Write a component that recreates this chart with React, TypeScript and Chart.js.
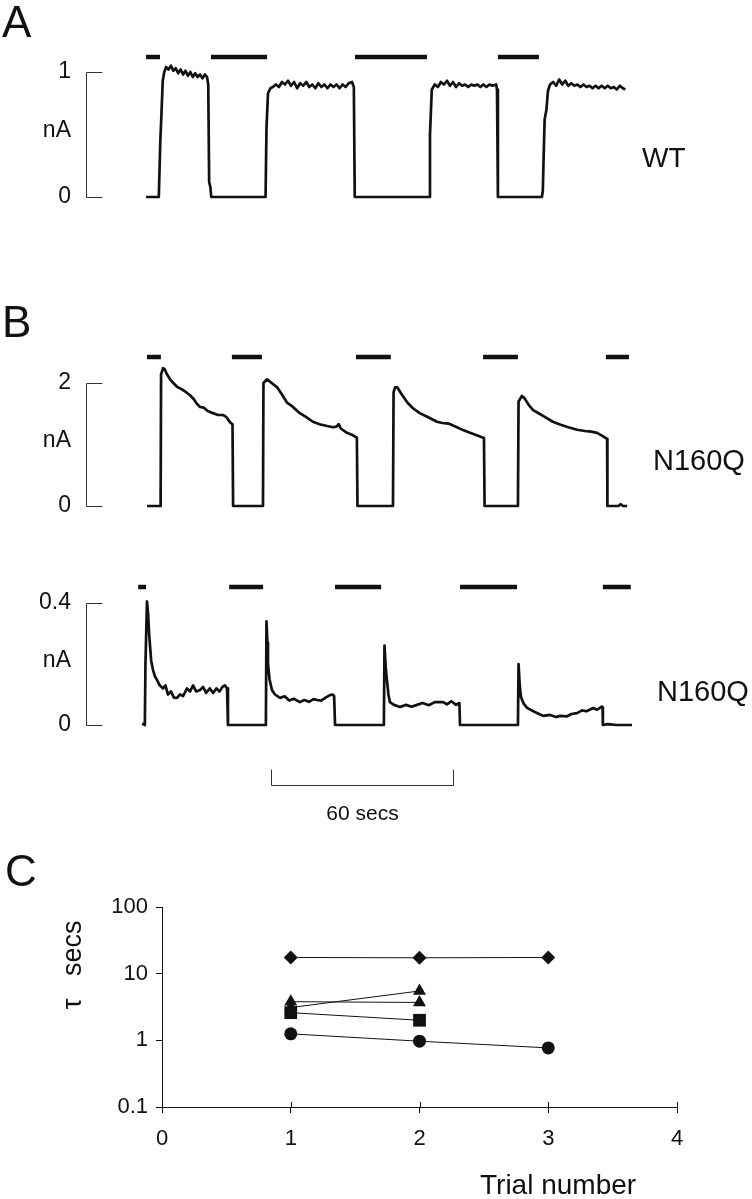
import React, { useEffect, useRef } from 'react';
import { Chart, registerables } from 'chart.js';

Chart.register(...registerables);

const FONT = '"Liberation Sans", Arial, Helvetica, sans-serif';
const INK = '#111';

// ---------- DATA (time in seconds, current in nA) ----------
// Panel A, WT trace
const TRACE_WT: [number, number][] = [
  [-0.2, 0], [4.0, 0], [4.5, 0.45], [4.8, 0.62], [5.3, 0.93], [5.8, 1.0], [6.4, 1.04], [7.2, 1.02], [8.0, 1.05],
  [8.8, 1.01], [9.6, 1.03], [10.4, 0.99], [11.2, 1.02], [12.0, 0.98], [12.8, 1.01], [13.6, 0.97], [14.4, 1.0],
  [15.2, 0.96], [16.0, 0.99], [16.8, 0.96], [17.6, 0.98], [18.4, 0.95], [19.2, 0.98], [19.9, 0.96], [20.3, 0.9],
  [20.6, 0.12], [21.0, 0.08], [21.3, 0], [39.2, 0], [39.5, 0.55], [40.0, 0.83], [40.8, 0.87], [41.6, 0.88],
  [42.6, 0.9], [43.6, 0.88], [44.6, 0.92], [45.6, 0.9], [46.6, 0.93], [47.6, 0.89], [48.6, 0.92], [49.6, 0.87],
  [50.6, 0.91], [51.6, 0.89], [52.6, 0.92], [53.6, 0.88], [54.6, 0.9], [55.6, 0.87], [56.6, 0.91], [57.6, 0.88],
  [58.6, 0.9], [59.6, 0.87], [60.6, 0.9], [61.6, 0.88], [62.6, 0.9], [63.6, 0.87], [64.6, 0.9], [65.6, 0.88],
  [66.6, 0.91], [67.7, 0.92], [68.3, 0.88], [68.6, 0], [93.1, 0], [93.4, 0.5], [94.0, 0.86], [95.0, 0.9],
  [96.0, 0.88], [97.0, 0.92], [98.0, 0.9], [99.0, 0.93], [100.0, 0.89], [101.0, 0.92], [102.0, 0.88],
  [103.0, 0.91], [104.0, 0.89], [105.0, 0.9], [106.0, 0.88], [107.0, 0.9], [108.0, 0.89], [109.0, 0.9],
  [110.0, 0.88], [111.0, 0.9], [112.0, 0.88], [113.0, 0.9], [114.0, 0.89], [115.2, 0.9], [115.5, 0.86],
  [115.8, 0], [130.3, 0], [130.6, 0.05], [130.9, 0.35], [131.2, 0.62], [131.8, 0.7], [132.3, 0.85],
  [133.0, 0.9], [134.0, 0.92], [135.0, 0.89], [136.0, 0.94], [137.0, 0.9], [138.0, 0.93], [139.0, 0.89],
  [140.0, 0.91], [141.0, 0.89], [142.0, 0.9], [143.0, 0.88], [144.0, 0.9], [145.0, 0.88], [146.0, 0.89],
  [147.0, 0.87], [148.0, 0.89], [149.0, 0.87], [150.0, 0.89], [151.0, 0.87], [152.0, 0.89], [153.0, 0.87],
  [154.0, 0.88], [155.0, 0.86], [156.0, 0.89], [157.0, 0.87], [157.8, 0.86],
];
const BARS_WT: [number, number][] = [[-0.2, 4.4], [21.2, 39.7], [68.7, 92.4], [115.8, 129.3]];

// Panel B, upper N160Q trace
const TRACE_N160Q_1: [number, number][] = [
  [0.1, 0], [4.6, 0], [4.75, 2.14], [5.4, 2.24], [6.0, 2.22], [6.6, 2.15], [7.7, 2.06], [8.8, 2.0], [10.0, 1.94],
  [11.5, 1.9], [13.0, 1.85], [14.3, 1.8], [15.5, 1.74], [16.6, 1.66], [17.6, 1.61], [18.8, 1.6], [20.0, 1.55],
  [21.9, 1.51], [23.5, 1.48], [25.2, 1.48], [26.2, 1.45], [27.5, 1.36], [28.3, 1.33], [28.5, 0],
  [38.35, 0], [38.5, 2.0], [39.7, 2.06], [40.7, 2.02], [42.0, 1.97], [43.0, 1.93], [44.5, 1.82], [46.3, 1.68],
  [48.0, 1.62], [50.5, 1.51], [52.5, 1.45], [54.8, 1.37], [57.0, 1.33], [59.5, 1.3], [61.4, 1.28], [62.6, 1.29],
  [63.3, 1.33], [64.0, 1.26], [66.0, 1.19], [67.6, 1.16], [69.3, 1.11], [69.5, 0],
  [81.2, 0], [81.4, 1.85], [81.9, 1.93], [82.6, 1.93], [84.0, 1.82], [86.0, 1.68], [87.8, 1.59], [90.0, 1.51],
  [92.5, 1.45], [95.7, 1.37], [97.5, 1.35], [99.5, 1.34], [102.3, 1.28], [104.5, 1.23], [106.6, 1.19],
  [108.8, 1.15], [110.9, 1.11], [111.2, 1.1], [111.4, 0],
  [122.4, 0], [122.6, 1.7], [123.7, 1.79], [124.6, 1.75], [126.0, 1.64], [127.4, 1.56], [129.5, 1.5],
  [131.5, 1.44], [133.9, 1.37], [136.5, 1.32], [139.0, 1.28], [141.9, 1.24], [144.5, 1.22], [146.5, 1.21],
  [148.5, 1.19], [150.2, 1.14], [151.8, 1.09], [151.9, 0], [155.5, 0], [156.3, 0.03], [157.0, 0], [158.4, 0],
];
const BARS_N160Q_1: [number, number][] = [[0.1, 4.7], [28.1, 38.0], [69.0, 80.5], [110.9, 122.4], [151.4, 159.0]];

// Panel B, lower N160Q trace
const TRACE_N160Q_2: [number, number][] = [
  [-1.5, 0.005], [-0.6, 0], [-0.4, 0.2], [0.1, 0.405], [0.5, 0.36], [0.8, 0.3], [1.1, 0.26], [1.5, 0.21],
  [2.1, 0.18], [2.7, 0.16], [3.4, 0.148], [4.3, 0.13], [5.4, 0.12], [6.2, 0.13], [7.0, 0.1], [8.0, 0.11],
  [9.0, 0.09], [10.0, 0.089], [11.0, 0.1], [12.0, 0.095], [13.3, 0.12], [14.3, 0.11], [15.3, 0.13],
  [16.3, 0.11], [17.6, 0.115], [18.6, 0.125], [19.6, 0.105], [20.8, 0.12], [21.9, 0.105], [23.0, 0.12],
  [24.0, 0.11], [25.0, 0.125], [25.8, 0.13], [26.5, 0.12], [26.8, 0],
  [39.3, 0], [39.5, 0.34], [39.8, 0.27], [40.0, 0.2], [40.5, 0.15], [41.3, 0.115], [42.3, 0.1], [43.95, 0.089],
  [45.5, 0.094], [47.0, 0.08], [48.5, 0.086], [50.5, 0.075], [52.0, 0.082], [53.5, 0.076], [55.0, 0.085],
  [56.2, 0.082], [57.5, 0.08], [59.0, 0.09], [60.4, 0.098], [61.3, 0.1], [61.8, 0.095], [62.1, 0],
  [78.2, 0], [78.4, 0.26], [78.8, 0.19], [79.2, 0.148], [79.7, 0.1], [80.2, 0.075], [81.5, 0.066],
  [83.5, 0.059], [85.5, 0.066], [87.3, 0.06], [89.1, 0.066], [91.0, 0.072], [93.0, 0.065], [95.0, 0.075],
  [97.7, 0.075], [99.0, 0.068], [100.5, 0.078], [102.0, 0.066], [102.6, 0.07], [103.1, 0.072], [103.3, 0],
  [122.4, 0], [122.6, 0.2], [123.0, 0.13], [123.4, 0.092], [124.3, 0.07], [125.4, 0.056], [127.5, 0.045],
  [129.0, 0.038], [130.7, 0.03], [133.0, 0.033], [135.0, 0.026], [136.3, 0.03], [138.5, 0.028], [140.0, 0.036],
  [141.9, 0.039], [143.5, 0.048], [145.0, 0.045], [147.2, 0.056], [148.5, 0.05], [150.0, 0.06], [150.3, 0.058],
  [150.4, 0], [152.0, 0.003], [155.0, 0], [160.0, 0],
];
const BARS_N160Q_2: [number, number][] = [[-2.8, -0.2], [27.2, 38.4], [62.1, 77.3], [103.3, 122.1], [150.4, 159.6]];

const SCALE_BAR_SECS: [number, number] = [41, 101];

// Panel C
const TRIALS = [1, 2, 3];
const TAU_CIRCLE = [1.25, 0.97, 0.77];
const TAU_SQUARE = [2.6, 2.0];
const TAU_TRIANGLE_A = [3.1, 5.5];
const TAU_TRIANGLE_B = [3.8, 3.7];
const TAU_DIAMOND = [17.5, 17.3, 17.5];
const C_Y_TICKS = [0.1, 1, 10, 100];
const C_Y_LABELS = ['0.1', '1', '10', '100'];

// ---------- LAYOUT ----------
const W = 752;
const T_MIN = -20;
const T_MAX = 196;
const PX_PER_S = 3.0333;
const AXIS_X = 86;
const RIGHT_EDGE = AXIS_X + (T_MAX - T_MIN) * PX_PER_S;

type TracePanel = {
  trace: [number, number][];
  bars: [number, number][];
  tickValues: number[];
  tickLabels: string[];
  zeroPx: number;
  topPx: number;
  topVal: number;
  areaTop: number;
  areaBottom: number;
  canvasTop: number;
  canvasHeight: number;
  scaleBar?: [number, number];
};

const PANELS: TracePanel[] = [
  {
    trace: TRACE_WT, bars: BARS_WT, tickValues: [0, 0.53, 1], tickLabels: ['0', 'nA', '1'],
    zeroPx: 197, topPx: 72, topVal: 1, areaTop: 49, areaBottom: 206, canvasTop: 39, canvasHeight: 175,
  },
  {
    trace: TRACE_N160Q_1, bars: BARS_N160Q_1, tickValues: [0, 1.07, 2], tickLabels: ['0', 'nA', '2'],
    zeroPx: 506, topPx: 383, topVal: 2, areaTop: 349, areaBottom: 514, canvasTop: 339, canvasHeight: 183,
  },
  {
    trace: TRACE_N160Q_2, bars: BARS_N160Q_2, tickValues: [0, 0.21, 0.4], tickLabels: ['0', 'nA', '0.4'],
    zeroPx: 725, topPx: 603, topVal: 0.4, areaTop: 579, areaBottom: 733, canvasTop: 569, canvasHeight: 266,
    scaleBar: SCALE_BAR_SECS,
  },
];

const C_TOP = 880;
const C_HEIGHT = 300;

function resetPadding(s: any) {
  s.paddingTop = 0; s.paddingBottom = 0; s.paddingLeft = 0; s.paddingRight = 0;
}

function makeDecor(p: TracePanel) {
  return {
    id: 'traceDecor',
    afterDatasetsDraw(chart: any) {
      const { ctx, chartArea, scales } = chart;
      const xs = scales.x;
      const ys = scales.y;
      ctx.save();
      // bracket axis
      const bx = Math.round(chartArea.left) + 0.5;
      const y0 = Math.round(ys.getPixelForValue(0)) + 0.5;
      const y1 = Math.round(ys.getPixelForValue(p.topVal)) + 0.5;
      ctx.strokeStyle = '#333';
      ctx.lineWidth = 1;
      ctx.beginPath();
      ctx.moveTo(bx + 16, y1); ctx.lineTo(bx, y1); ctx.lineTo(bx, y0); ctx.lineTo(bx + 16, y0);
      ctx.stroke();
      // stimulus bars
      ctx.fillStyle = INK;
      const by = chartArea.top + 8;
      for (const [a, b] of p.bars) {
        const xa = xs.getPixelForValue(a);
        const xb = xs.getPixelForValue(b);
        ctx.fillRect(xa, by - 2.25, xb - xa, 4.5);
      }
      // time scale bar
      if (p.scaleBar) {
        const xa = Math.round(xs.getPixelForValue(p.scaleBar[0])) + 0.5;
        const xb = Math.round(xs.getPixelForValue(p.scaleBar[1])) + 0.5;
        const yb = Math.round(chartArea.bottom + 52) + 0.5;
        ctx.strokeStyle = '#333';
        ctx.lineWidth = 1;
        ctx.beginPath();
        ctx.moveTo(xa, yb - 16); ctx.lineTo(xa, yb); ctx.lineTo(xb, yb); ctx.lineTo(xb, yb - 16);
        ctx.stroke();
        ctx.fillStyle = INK;
        ctx.font = `21px ${FONT}`;
        ctx.textAlign = 'center';
        ctx.textBaseline = 'alphabetic';
        ctx.fillText(`${p.scaleBar[1] - p.scaleBar[0]} secs`, (xa + xb) / 2, chartArea.bottom + 87);
      }
      ctx.restore();
    },
  };
}

function traceConfig(p: TracePanel): any {
  const ppu = (p.zeroPx - p.topPx) / p.topVal;
  const yMax = (p.zeroPx - p.areaTop) / ppu;
  const yMin = (p.zeroPx - p.areaBottom) / ppu;
  return {
    type: 'line',
    data: {
      datasets: [{
        data: p.trace.map(([x, y]) => ({ x, y })),
        borderColor: INK,
        borderWidth: 2.7,
        pointRadius: 0,
        tension: 0,
        fill: false,
        borderJoinStyle: 'round',
      }],
    },
    options: {
      responsive: false,
      animation: false,
      devicePixelRatio: 1,
      events: [],
      layout: {
        padding: {
          top: p.areaTop - p.canvasTop,
          bottom: p.canvasHeight - (p.areaBottom - p.canvasTop),
          left: 0,
          right: W - RIGHT_EDGE,
        },
      },
      plugins: { legend: { display: false }, tooltip: { enabled: false } },
      scales: {
        x: { type: 'linear', min: T_MIN, max: T_MAX, display: false },
        y: {
          type: 'linear', min: yMin, max: yMax, position: 'left',
          grid: { display: false, drawTicks: false },
          border: { display: false },
          ticks: {
            autoSkip: false, padding: 15, color: INK,
            font: { family: FONT, size: 23 },
            callback: (_v: any, i: number) => p.tickLabels[i],
          },
          afterBuildTicks: (s: any) => { s.ticks = p.tickValues.map((v) => ({ value: v })); },
          afterFit: (s: any) => { s.width = AXIS_X; resetPadding(s); },
        },
      },
    },
    plugins: [makeDecor(p)],
  };
}

const innerTicks = {
  id: 'innerTicks',
  afterDraw(chart: any) {
    const { ctx, chartArea, scales } = chart;
    ctx.save();
    ctx.strokeStyle = INK;
    ctx.lineWidth = 1;
    ctx.beginPath();
    for (const v of [1, 2, 3, 4]) {
      const x = Math.round(scales.x.getPixelForValue(v)) + 0.5;
      ctx.moveTo(x, chartArea.bottom);
      ctx.lineTo(x, chartArea.bottom - 5);
    }
    ctx.stroke();
    ctx.restore();
  },
};

function series(values: number[], style: string, radius: number) {
  return {
    data: values.map((v, i) => ({ x: TRIALS[i], y: v })),
    borderColor: INK,
    borderWidth: 1,
    pointStyle: style,
    pointRadius: radius,
    pointBackgroundColor: INK,
    pointBorderColor: INK,
    pointBorderWidth: 0,
    tension: 0,
    fill: false,
  };
}

function tauConfig(): any {
  return {
    type: 'line',
    data: {
      datasets: [
        series(TAU_CIRCLE, 'circle', 6.5),
        series(TAU_SQUARE, 'rect', 9),
        series(TAU_TRIANGLE_A, 'triangle', 7.5),
        series(TAU_TRIANGLE_B, 'triangle', 7.5),
        series(TAU_DIAMOND, 'rectRot', 7),
      ],
    },
    options: {
      responsive: false,
      animation: false,
      devicePixelRatio: 1,
      events: [],
      layout: { padding: { top: 27, bottom: C_HEIGHT - 27 - 200 - 50, left: 0, right: W - 677 } },
      plugins: { legend: { display: false }, tooltip: { enabled: false } },
      scales: {
        x: {
          type: 'linear', min: 0, max: 4,
          grid: { drawOnChartArea: false, drawTicks: true, tickLength: 6, color: INK, lineWidth: 1 },
          border: { display: true, color: INK, width: 1 },
          ticks: { stepSize: 1, padding: 13, color: INK, font: { family: FONT, size: 22 } },
          afterFit: (s: any) => { s.height = 50; resetPadding(s); },
        },
        y: {
          type: 'logarithmic', min: 0.1, max: 100, position: 'left',
          grid: { drawOnChartArea: false, drawTicks: true, tickLength: 6, color: INK, lineWidth: 1 },
          border: { display: true, color: INK, width: 1 },
          ticks: {
            autoSkip: false, padding: 8, color: INK,
            font: { family: FONT, size: 22 },
            callback: (_v: any, i: number) => C_Y_LABELS[i],
          },
          title: {
            display: true, text: 'τ   secs\u2002', color: INK, align: 'end',
            font: { family: FONT, size: 27 },
            padding: { top: 57, bottom: 0 },
          },
          afterBuildTicks: (s: any) => { s.ticks = C_Y_TICKS.map((v) => ({ value: v })); },
          afterFit: (s: any) => { s.width = 162; resetPadding(s); },
        },
      },
    },
    plugins: [innerTicks],
  };
}

function Txt({ x, baseline, size, children }: { x: number; baseline: number; size: number; children: React.ReactNode }) {
  return (
    <div
      style={{
        position: 'absolute', left: x, top: baseline - 0.8465 * size, fontSize: size, lineHeight: `${size}px`,
        fontFamily: FONT, color: INK, whiteSpace: 'nowrap', zIndex: 2,
      }}
    >
      {children}
    </div>
  );
}

export default function App() {
  const refs = [useRef<HTMLCanvasElement>(null), useRef<HTMLCanvasElement>(null), useRef<HTMLCanvasElement>(null)];
  const cRef = useRef<HTMLCanvasElement>(null);

  useEffect(() => {
    const charts: Chart[] = [];
    PANELS.forEach((p, i) => {
      const el = refs[i].current;
      if (el) charts.push(new Chart(el, traceConfig(p)));
    });
    if (cRef.current) charts.push(new Chart(cRef.current, tauConfig()));
    return () => charts.forEach((c) => c.destroy());
  }, []);

  return (
    <div style={{ position: 'absolute', left: 0, top: 0, width: W, height: 1199, background: '#fff', overflow: 'hidden' }}>
      {PANELS.map((p, i) => (
        <canvas
          key={i}
          ref={refs[i]}
          width={W}
          height={p.canvasHeight}
          style={{ position: 'absolute', left: 0, top: p.canvasTop, width: W, height: p.canvasHeight, display: 'block' }}
        />
      ))}
      <canvas
        ref={cRef}
        width={W}
        height={C_HEIGHT}
        style={{ position: 'absolute', left: 0, top: C_TOP, width: W, height: C_HEIGHT, display: 'block' }}
      />
      <Txt x={2} baseline={37} size={44}>A</Txt>
      <Txt x={2} baseline={337} size={44}>B</Txt>
      <Txt x={5} baseline={886} size={44}>C</Txt>
      <Txt x={642} baseline={168} size={28}>WT</Txt>
      <Txt x={653} baseline={471} size={29}>N160Q</Txt>
      <Txt x={657} baseline={702} size={29}>N160Q</Txt>
      <Txt x={480} baseline={1195} size={28}>Trial number</Txt>
    </div>
  );
}
